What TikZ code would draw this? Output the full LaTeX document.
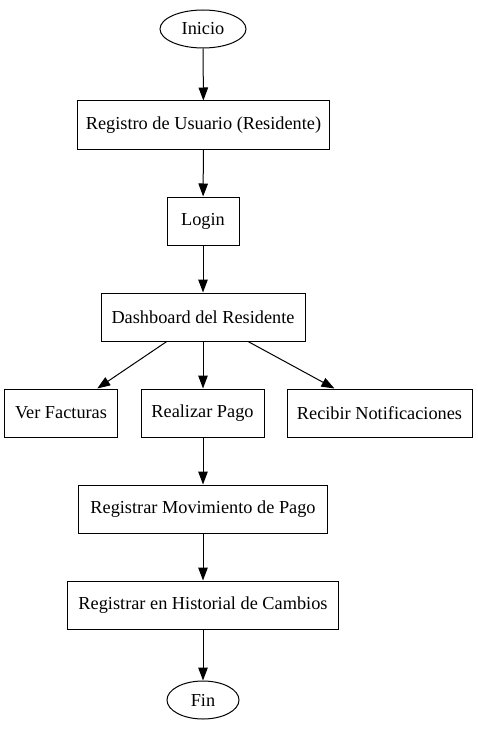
\documentclass[tikz,border=0pt]{standalone}
\usepackage{fontspec}
\setmainfont{Liberation Serif}
\usetikzlibrary{arrows.meta,shapes.geometric}
\begin{document}
\begin{tikzpicture}[x=1bp,y=-1bp,line width=1bp,
  box/.style={draw,rectangle,minimum height=48bp,inner sep=0pt,font=\fontsize{18.3bp}{20bp}\selectfont},
  term/.style={draw,ellipse,minimum height=38bp,inner sep=0pt,font=\fontsize{18.3bp}{20bp}\selectfont},
  arr/.style={-{Triangle[length=13bp,width=9.5bp]},line width=1bp}]
\useasboundingbox (0,0) rectangle (478,731);
\node[term,minimum width=86bp] (inicio) at (203,29) {Inicio};
\node[box,minimum width=251bp] (reg) at (203.5,125) {Registro de Usuario (Residente)};
\node[box,minimum width=72bp] (login) at (203,221) {Login};
\node[box,minimum width=204bp] (dash) at (203,317) {Dashboard del Residente};
\node[box,minimum width=112bp] (ver) at (61,413) {Ver Facturas};
\node[box,minimum width=123bp] (pago) at (202.5,413) {Realizar Pago};
\node[box,minimum width=185bp] (notif) at (379.5,413) {Recibir Notificaciones};
\node[box,minimum width=248bp] (mov) at (203,509) {Registrar Movimiento de Pago};
\node[box,minimum width=270bp] (hist) at (203,605) {Registrar en Historial de Cambios};
\node[term,minimum width=72bp] (fin) at (203,700) {Fin};
\draw[arr] (inicio) -- (reg);
\draw[arr] (reg) -- (login);
\draw[arr] (login) -- (dash);
\draw[arr] (dash) -- (ver);
\draw[arr] (dash) -- (pago.north -| dash.south);
\draw[arr] (dash) -- (notif);
\draw[arr] (pago.south -| dash.south) -- (mov);
\draw[arr] (mov) -- (hist);
\draw[arr] (hist) -- (fin);
\end{tikzpicture}
\end{document}
